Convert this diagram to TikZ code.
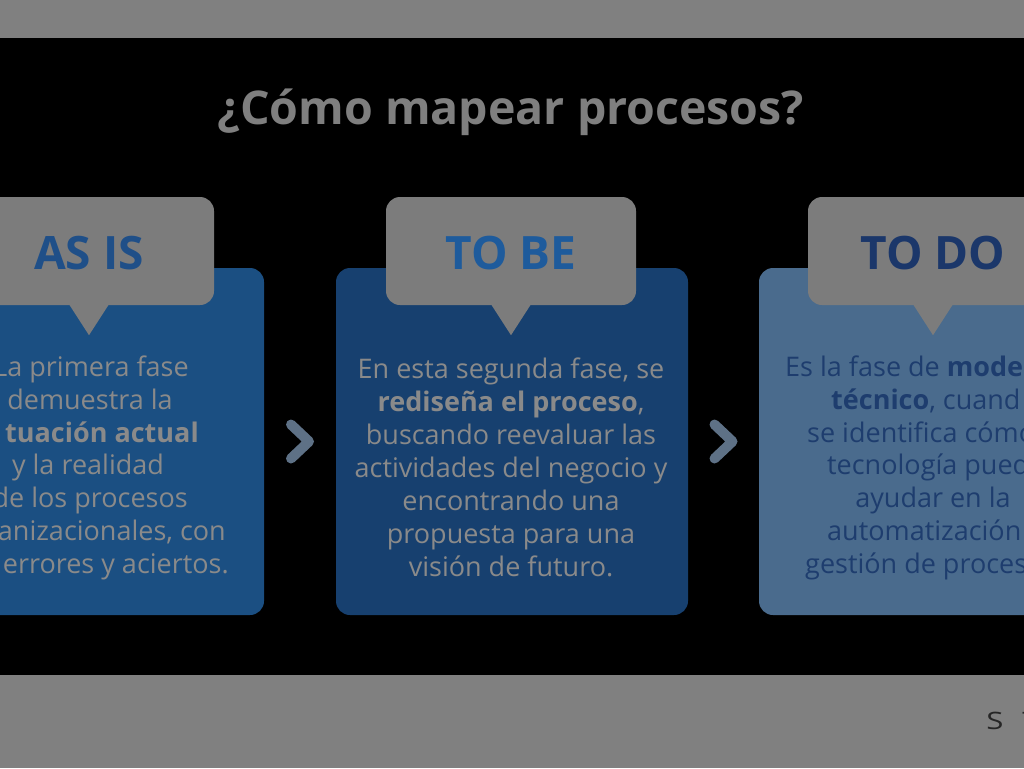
\documentclass[tikz,border=0pt]{standalone}
\usepackage{fontspec}
\setmainfont{Open Sans}
\usetikzlibrary{positioning,calc}
\definecolor{pagegray}{HTML}{808080}
\definecolor{titlegray}{HTML}{7F7F7F}
\definecolor{bubblegray}{HTML}{7C7C7C}
\definecolor{bodygray}{HTML}{8A8A8A}
\definecolor{cardone}{HTML}{1B4F82}
\definecolor{cardtwo}{HTML}{17406F}
\definecolor{cardthree}{HTML}{4A6B8D}
\definecolor{headone}{HTML}{1F4F88}
\definecolor{headtwo}{HTML}{1E5B9C}
\definecolor{headthree}{HTML}{1B376A}
\definecolor{textthree}{HTML}{1E3D6E}
\definecolor{chevgray}{HTML}{5E7186}

\begin{document}
\begin{tikzpicture}[x=1pt, y=-1pt, every node/.style={inner sep=0pt}]
% styles
\tikzstyle{card}=[rectangle,rounded corners=14pt,minimum width=352pt,minimum height=347pt]
\tikzstyle{bubble}=[rectangle,fill=bubblegray,rounded corners=14pt,minimum width=250pt,minimum height=108pt]
\tikzstyle{heading}=[font=\fontsize{46}{46}\selectfont\bfseries]
\tikzstyle{body}=[font=\fontsize{27}{33}\selectfont,text=bodygray]
\tikzstyle{dark}=[body,text=textthree]
\tikzstyle{chevron}=[draw=chevgray,line width=10pt,line cap=round,line join=round]

\useasboundingbox (0,0) rectangle (1024,768);
\clip (0,0) rectangle (1024,768);

% background
\fill[pagegray] (0,0) rectangle (1024,768);
\fill[black] (0,38) rectangle (1024,675);

% title
\node[font=\fontsize{46.5}{46.5}\selectfont\bfseries,text=titlegray] (title) at (511,112) {¿Cómo mapear procesos?};

% cards
\node[card,fill=cardone] (c1) at (88,441.5) {};
\node[card,fill=cardtwo] (c2) at (512,441.5) {};
\node[card,fill=cardthree] (c3) at (935,441.5) {};

% bubbles
\node[bubble] (b1) at (89,251) {};
\node[bubble] (b2) at (511,251) {};
\node[bubble] (b3) at (933,251) {};
\foreach \i in {1,2,3}
  \fill[bubblegray] ($(b\i.south)+(-20,-1)$) -- ($(b\i.south)+(0,30)$) -- ($(b\i.south)+(20,-1)$) -- cycle;

\node[heading,text=headone] (h1) at ($(b1.center)+(0,2.5)$) {AS IS};
\node[heading,text=headtwo] (h2) at ($(b2.center)+(0,2.5)$) {TO BE};
\node[heading,text=headthree] (h3) at ($(b3.center)+(0,2.5)$) {TO DO};

% first phase
\node[body,anchor=mid east] (l11) at (189,374) {La primera fase};
\node[body,anchor=mid] (l12) at (90,407) {demuestra la};
\node[body,anchor=mid east] (l13) at (199,440) {\textbf{tuación actual}};
\node[body,anchor=mid] (l14) at (88,472) {y la realidad};
\node[body,anchor=mid east] (l15) at (188,505) {de los procesos};
\node[body,anchor=mid east] (l16) at (226,538) {anizacionales, con};
\node[body,anchor=mid east] (l17) at (229,571) {errores y aciertos.};

% second phase
\node[body,align=center] (t2) at (511,467.5) {En esta segunda fase, se\\
  \textbf{rediseña el proceso},\\
  buscando reevaluar las\\
  actividades del negocio y\\
  encontrando una\\
  propuesta para una\\
  visión de futuro.};

% third phase
\node[dark,anchor=mid west] (l31) at (785,374) {Es la fase de \textbf{mode}};
\node[dark,anchor=mid west] (l32) at (831,407) {\textbf{técnico}, cuand};
\node[dark,anchor=mid west] (l33) at (807,440) {se identifica cómo};
\node[dark,anchor=mid west] (l34) at (827,472) {tecnología pued};
\node[dark,anchor=mid] (l35) at (933,505) {ayudar en la};
\node[dark,anchor=mid west] (l36) at (827,538) {automatización};
\node[dark,anchor=mid west] (l37) at (805,571) {gestión de proces};

% chevrons between cards
\coordinate (m1) at ($(c1.east)!0.5!(c2.west)$);
\coordinate (m2) at ($(c2.east)!0.5!(c3.west)$);
\foreach \m in {m1,m2}
  \draw[chevron] ($(\m)+(-9,-17)$) -- ($(\m)+(9,0)$) -- ($(\m)+(-9,17)$);

% footer mark
\node[font=\fontsize{24}{24}\selectfont,text=black!85,xscale=1.3] (s1) at (995,721) {S};
\node[font=\fontsize{24}{24}\selectfont,text=black!85,xscale=1.3] (s2) at (1031,721) {T};

\end{tikzpicture}
\end{document}
